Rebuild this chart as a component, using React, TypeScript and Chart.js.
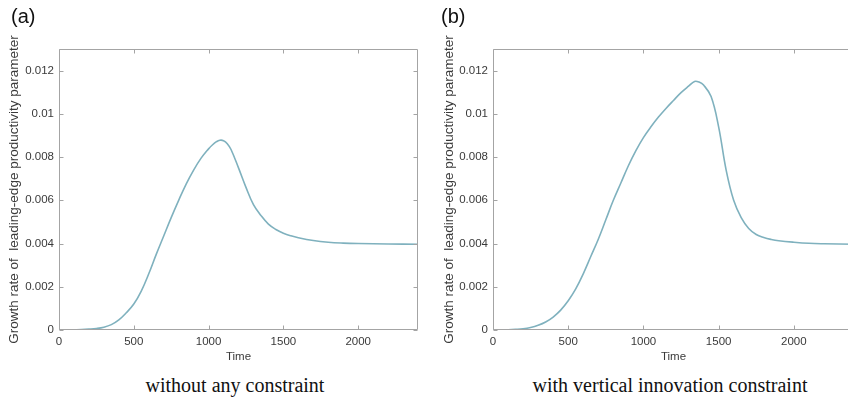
import React, { useEffect, useRef } from "react";
import { Chart, registerables } from "chart.js";

Chart.register(...registerables);

// Panel (a): without any constraint
const timesA = [0, 50, 100, 150, 200, 250, 300, 350, 400, 450, 500, 550, 600, 650, 700, 750, 800, 850, 900, 950, 1000, 1025, 1050, 1075, 1100, 1125, 1150, 1200, 1250, 1300, 1350, 1400, 1450, 1500, 1550, 1600, 1700, 1800, 1900, 2000, 2200, 2400];
const valuesA = [0, 0, 0.00001, 0.00002, 0.00004, 0.00007, 0.00013, 0.00025, 0.00047, 0.0008, 0.0012, 0.0018, 0.0026, 0.0035, 0.00435, 0.0052, 0.006, 0.00675, 0.0074, 0.00795, 0.00838, 0.00856, 0.0087, 0.00878, 0.00876, 0.00862, 0.00835, 0.0075, 0.0066, 0.0058, 0.0053, 0.0049, 0.00465, 0.00448, 0.00436, 0.00427, 0.00414, 0.00406, 0.00402, 0.004, 0.00398, 0.00397];

// Panel (b): with vertical innovation constraint
const timesB = [0, 50, 100, 150, 200, 250, 300, 350, 400, 450, 500, 550, 600, 650, 700, 750, 800, 850, 900, 950, 1000, 1050, 1100, 1150, 1200, 1250, 1300, 1340, 1370, 1400, 1450, 1500, 1550, 1600, 1650, 1700, 1750, 1800, 1850, 1900, 2000, 2100, 2200, 2400];
const valuesB = [0, 0, 0.00001, 0.00003, 0.00006, 0.00012, 0.00022, 0.00037, 0.0006, 0.00092, 0.00135, 0.0019, 0.0026, 0.0034, 0.0042, 0.0051, 0.006, 0.0068, 0.0076, 0.0083, 0.0089, 0.0094, 0.00985, 0.01025, 0.01062, 0.01098, 0.01128, 0.0115, 0.01147, 0.01133, 0.0108, 0.0094, 0.0074, 0.006, 0.0052, 0.0047, 0.00442, 0.00428, 0.00419, 0.00413, 0.00406, 0.00401, 0.00399, 0.00397];

const panelLabels = ["(a)", "(b)"];
const captions = ["without any constraint", "with vertical innovation constraint"];
const xTitle = "Time";
const yTitle = "Growth rate of  leading-edge productivity parameter";
const xTickValues = [0, 500, 1000, 1500, 2000];
const yTickValues = [0, 0.002, 0.004, 0.006, 0.008, 0.01, 0.012];
const yTickLabels = ["0", "0.002", "0.004", "0.006", "0.008", "0.01", "0.012"];
const xMin = 0;
const xMax = 2400;
const yMin = 0;
const yMax = 0.013;

const SANS = '"Liberation Sans", Arial, Helvetica, sans-serif';
const SERIF = '"Liberation Serif", "Times New Roman", serif';
const LINE_COLOR = "#7fb1be";
const FRAME_COLOR = "#a4a4a4";
const TEXT_COLOR = "#3a3a3a";

const framePlugin = {
  id: "frame",
  afterDraw(chart: any) {
    const { ctx, chartArea: a, scales } = chart;
    const l = Math.round(a.left) + 0.5;
    const r = Math.round(a.right) - 0.5;
    const t = Math.round(a.top) + 0.5;
    const b = Math.round(a.bottom) - 0.5;
    ctx.save();
    ctx.strokeStyle = FRAME_COLOR;
    ctx.lineWidth = 1;
    ctx.beginPath();
    ctx.rect(l, t, r - l, b - t);
    const len = 4;
    scales.x.ticks.forEach((tk: any) => {
      const px = Math.round(scales.x.getPixelForValue(tk.value)) + 0.5;
      ctx.moveTo(px, b);
      ctx.lineTo(px, b - len);
      ctx.moveTo(px, t);
      ctx.lineTo(px, t + len);
    });
    scales.y.ticks.forEach((tk: any) => {
      const py = Math.round(scales.y.getPixelForValue(tk.value)) + 0.5;
      ctx.moveTo(l, py);
      ctx.lineTo(l + len, py);
      ctx.moveTo(r, py);
      ctx.lineTo(r - len, py);
    });
    ctx.stroke();
    ctx.restore();
  },
};

type PanelProps = {
  times: number[];
  values: number[];
  left: number;
  width: number;
  yAxisWidth: number;
  titlePad: number;
};

function Panel({ times, values, left, width, yAxisWidth, titlePad }: PanelProps) {
  const ref = useRef<HTMLCanvasElement | null>(null);
  useEffect(() => {
    if (!ref.current) return;
    const data = times.map((t, i) => ({ x: t, y: values[i] }));
    const chart = new Chart(ref.current, {
      type: "line",
      data: {
        datasets: [
          {
            data,
            borderColor: LINE_COLOR,
            borderWidth: 1.6,
            pointRadius: 0,
            fill: false,
            tension: 0.4,
          },
        ],
      },
      options: {
        animation: false,
        responsive: false,
        maintainAspectRatio: false,
        events: [],
        layout: { padding: { top: 49, right: 6, left: 0, bottom: 0 } },
        plugins: { legend: { display: false }, tooltip: { enabled: false } },
        scales: {
          x: {
            type: "linear",
            min: xMin,
            max: xMax,
            grid: { display: false, drawTicks: false, tickLength: 0 },
            border: { display: false },
            afterBuildTicks: (s: any) => {
              s.ticks = xTickValues.map((v) => ({ value: v }));
            },
            ticks: {
              padding: 5,
              color: TEXT_COLOR,
              font: { family: SANS, size: 11.5 },
              maxRotation: 0,
              autoSkip: false,
              callback: (v: any) => String(v),
            },
            title: {
              display: true,
              text: xTitle,
              color: TEXT_COLOR,
              font: { family: SANS, size: 11.5 },
              padding: { top: 0, bottom: 6 },
            },
            afterFit: (s: any) => {
              s.height = 40;
            },
          },
          y: {
            type: "linear",
            min: yMin,
            max: yMax,
            grid: { display: false, drawTicks: false, tickLength: 0 },
            border: { display: false },
            afterBuildTicks: (s: any) => {
              s.ticks = yTickValues.map((v) => ({ value: v }));
            },
            ticks: {
              padding: 5,
              color: TEXT_COLOR,
              autoSkip: false,
              font: { family: SANS, size: 11.5 },
              callback: (v: any) => {
                const i = yTickValues.findIndex((y) => Math.abs(y - Number(v)) < 1e-9);
                return i >= 0 ? yTickLabels[i] : "";
              },
            },
            title: {
              display: true,
              text: yTitle,
              color: TEXT_COLOR,
              font: { family: SANS, size: 13.5 },
              padding: { top: titlePad, bottom: 0 },
            },
            afterFit: (s: any) => {
              s.width = yAxisWidth;
            },
          },
        },
      },
      plugins: [framePlugin],
    } as any);
    return () => chart.destroy();
  }, [times, values, yAxisWidth, titlePad]);
  return (
    <canvas
      ref={ref}
      width={width}
      height={370}
      style={{ position: "absolute", left, top: 0, width, height: 370, display: "block" }}
    />
  );
}

export default function App() {
  const labelStyle: React.CSSProperties = {
    position: "absolute",
    top: 6,
    fontFamily: SANS,
    fontSize: 20,
    lineHeight: "20px",
    color: "#111",
    whiteSpace: "nowrap",
  };
  const captionStyle: React.CSSProperties = {
    position: "absolute",
    top: 375,
    width: 400,
    textAlign: "center",
    fontFamily: SERIF,
    fontSize: 20,
    lineHeight: "20px",
    color: "#111",
    whiteSpace: "nowrap",
  };
  return (
    <div
      style={{
        position: "fixed",
        left: 0,
        top: 0,
        width: 848,
        height: 398,
        overflow: "hidden",
        background: "#fff",
      }}
    >
      <Panel times={timesA} values={valuesA} left={0} width={424} yAxisWidth={59} titlePad={6} />
      <Panel times={timesB} values={valuesB} left={424} width={436} yAxisWidth={69} titlePad={17} />
      <div style={{ ...labelStyle, left: 11 }}>{panelLabels[0]}</div>
      <div style={{ ...labelStyle, left: 441 }}>{panelLabels[1]}</div>
      <div style={{ ...captionStyle, left: 235 - 200 }}>{captions[0]}</div>
      <div style={{ ...captionStyle, left: 670 - 200 }}>{captions[1]}</div>
    </div>
  );
}
